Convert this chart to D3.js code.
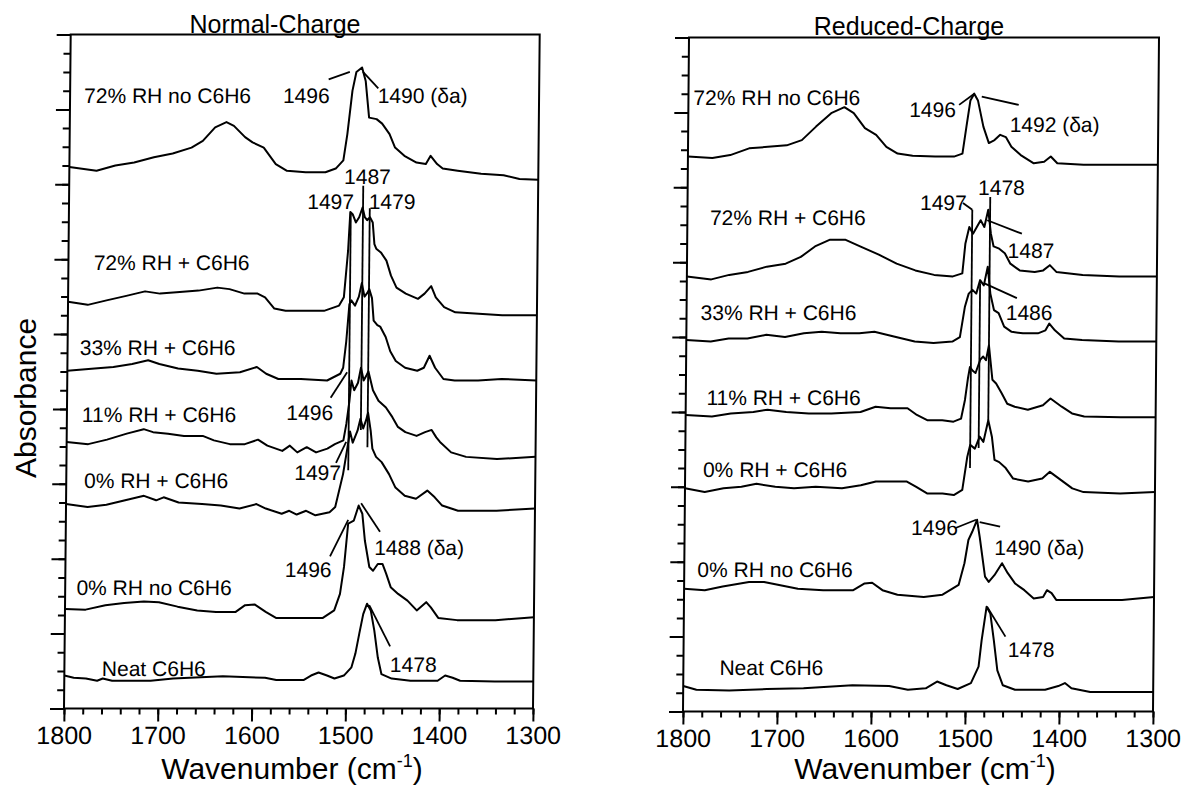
<!DOCTYPE html>
<html lang="en">
<head>
<meta charset="utf-8">
<script src="https://cdn.jsdelivr.net/npm/d3@7"></script>
<style>
  body { margin: 0; background: #fff; }
  svg text { font-family: "Liberation Sans", Arial, Helvetica, sans-serif; fill: #000; }
</style>
</head>
<body>
<div id="chart"></div>
<script>
// spectra: [wavenumber, absorbance (stacked, arbitrary units)]
// Normal-Charge
let nc72NoC6H6 = [[1800,7.23],[1771,7.18],[1751,7.25],[1731,7.29],[1710,7.36],[1690,7.41],[1670,7.49],[1658,7.58],[1645,7.76],[1633,7.83],[1625,7.78],[1613,7.63],[1605,7.56],[1593,7.49],[1580,7.27],[1568,7.18],[1548,7.16],[1527,7.16],[1516,7.21],[1508,7.32],[1504,7.67],[1499,8.25],[1495,8.50],[1489,8.56],[1485,8.38],[1481,7.89],[1473,7.87],[1467,7.81],[1459,7.67],[1453,7.49],[1443,7.38],[1430,7.29],[1420,7.27],[1415,7.38],[1408,7.27],[1402,7.21],[1386,7.18],[1361,7.14],[1337,7.12],[1320,7.07],[1300,7.06]]
let nc72C6H6 = [[1800,5.43],[1779,5.39],[1759,5.45],[1738,5.51],[1718,5.57],[1702,5.54],[1681,5.56],[1661,5.58],[1641,5.62],[1628,5.60],[1612,5.54],[1598,5.54],[1590,5.49],[1580,5.34],[1568,5.31],[1547,5.31],[1527,5.31],[1511,5.38],[1506,5.49],[1502,6.11],[1500,6.63],[1497.5,6.60],[1494,6.49],[1490.5,6.56],[1487,6.69],[1484.5,6.56],[1482,6.52],[1479,6.56],[1476,6.49],[1474,6.20],[1472,6.14],[1467,6.09],[1461,5.98],[1456,5.78],[1450,5.62],[1440,5.54],[1427,5.47],[1420,5.54],[1413,5.64],[1408,5.49],[1399,5.36],[1387,5.29],[1362,5.27],[1337,5.25],[1300,5.25]]
let nc33C6H6 = [[1800,4.51],[1771,4.54],[1751,4.56],[1731,4.60],[1714,4.65],[1702,4.60],[1682,4.54],[1661,4.51],[1641,4.47],[1616,4.49],[1598,4.56],[1588,4.47],[1575,4.40],[1551,4.40],[1523,4.38],[1509,4.47],[1506,4.55],[1503,4.90],[1500,5.40],[1498,5.45],[1494,5.38],[1490,5.50],[1487,5.68],[1484,5.50],[1481,5.55],[1479,5.60],[1476,5.48],[1474,5.18],[1470,5.12],[1467,5.10],[1461,4.96],[1456,4.77],[1450,4.64],[1440,4.55],[1427,4.51],[1420,4.55],[1414,4.71],[1408,4.55],[1399,4.40],[1387,4.38],[1362,4.38],[1337,4.40],[1300,4.38]]
let nc11C6H6 = [[1800,3.56],[1777,3.53],[1757,3.59],[1736,3.67],[1718,3.73],[1708,3.69],[1692,3.67],[1675,3.64],[1655,3.64],[1643,3.58],[1626,3.53],[1610,3.53],[1596,3.59],[1586,3.51],[1570,3.44],[1562,3.51],[1554,3.42],[1544,3.49],[1534,3.42],[1522,3.47],[1514,3.53],[1505,3.58],[1502,3.80],[1499,4.10],[1497,4.38],[1494,4.25],[1490,4.35],[1487,4.55],[1484,4.38],[1481,4.45],[1479,4.50],[1476,4.35],[1474,4.25],[1468,4.11],[1460,4.02],[1453,3.89],[1447,3.76],[1439,3.69],[1427,3.64],[1418,3.69],[1411,3.72],[1406,3.62],[1402,3.56],[1390,3.42],[1374,3.36],[1341,3.33],[1300,3.36]]
let nc0C6H6 = [[1800,2.73],[1777,2.69],[1757,2.72],[1737,2.78],[1717,2.84],[1704,2.78],[1696,2.82],[1680,2.75],[1655,2.73],[1635,2.71],[1615,2.67],[1597,2.73],[1587,2.67],[1570,2.60],[1562,2.64],[1554,2.59],[1544,2.64],[1534,2.58],[1519,2.62],[1513,2.69],[1505,3.13],[1501,3.45],[1498,3.70],[1495,3.55],[1490,3.71],[1487,3.87],[1484,3.74],[1481,3.85],[1479,3.95],[1476,3.71],[1474,3.47],[1470,3.36],[1464,3.29],[1456,3.13],[1449,2.95],[1439,2.84],[1427,2.80],[1415,2.91],[1407,2.82],[1399,2.71],[1382,2.64],[1341,2.64],[1300,2.67]]
let nc0NoC6H6 = [[1800,1.33],[1778,1.32],[1757,1.38],[1737,1.41],[1716,1.43],[1700,1.42],[1680,1.36],[1659,1.31],[1639,1.29],[1618,1.29],[1608,1.38],[1598,1.39],[1586,1.29],[1575,1.21],[1553,1.21],[1525,1.21],[1513,1.31],[1507,1.53],[1503,1.89],[1499,2.47],[1493,2.51],[1488,2.71],[1484,2.60],[1481,2.24],[1476,1.89],[1472,1.84],[1467,1.93],[1462,1.93],[1458,1.80],[1453,1.62],[1445,1.53],[1435,1.44],[1425,1.31],[1415,1.42],[1410,1.35],[1402,1.21],[1382,1.18],[1341,1.18],[1300,1.22]]
let ncNeat = [[1800,0.44],[1790,0.41],[1777,0.40],[1765,0.37],[1759,0.40],[1749,0.37],[1708,0.37],[1684,0.40],[1631,0.43],[1586,0.41],[1574,0.38],[1545,0.38],[1537,0.44],[1529,0.48],[1520,0.44],[1512,0.40],[1502,0.44],[1494,0.55],[1490,0.73],[1486,1.00],[1482,1.26],[1478,1.40],[1474,1.31],[1470,1.04],[1466,0.68],[1462,0.46],[1451,0.40],[1431,0.37],[1402,0.37],[1394,0.44],[1386,0.41],[1378,0.37],[1341,0.36],[1300,0.36]]

// Reduced-Charge
let rc72NoC6H6 = [[1800,7.41],[1774,7.39],[1755,7.43],[1735,7.52],[1715,7.54],[1695,7.56],[1679,7.63],[1664,7.81],[1648,7.99],[1634,8.07],[1624,7.99],[1612,7.79],[1600,7.70],[1589,7.54],[1577,7.45],[1561,7.42],[1537,7.41],[1517,7.41],[1508,7.45],[1504,7.81],[1500,8.16],[1496,8.25],[1492,8.16],[1486,7.81],[1480,7.59],[1474,7.63],[1468,7.70],[1462,7.67],[1456,7.54],[1446,7.43],[1432,7.32],[1421,7.34],[1414,7.41],[1407,7.32],[1379,7.30],[1340,7.30],[1300,7.30]]
let rc72C6H6 = [[1800,5.81],[1774,5.77],[1755,5.83],[1735,5.87],[1715,5.94],[1695,5.98],[1679,6.07],[1664,6.21],[1648,6.30],[1632,6.30],[1616,6.21],[1596,6.10],[1577,5.98],[1557,5.89],[1537,5.83],[1517,5.81],[1507,5.85],[1504,6.25],[1500,6.47],[1496,6.38],[1492,6.47],[1488,6.56],[1484,6.47],[1480,6.70],[1477,6.38],[1474,6.21],[1468,6.18],[1462,6.12],[1456,5.98],[1446,5.89],[1430,5.87],[1421,5.89],[1414,5.96],[1407,5.87],[1379,5.83],[1340,5.81],[1300,5.81]]
let rc33C6H6 = [[1800,4.96],[1774,4.94],[1755,4.98],[1735,4.98],[1715,5.03],[1695,5.00],[1675,5.05],[1656,5.07],[1636,5.05],[1616,5.05],[1600,5.07],[1577,5.00],[1557,4.94],[1537,4.92],[1517,4.94],[1509,5.00],[1504,5.40],[1500,5.58],[1496,5.63],[1492,5.58],[1488,5.76],[1484,5.69],[1480,5.94],[1477,5.58],[1473,5.36],[1468,5.32],[1462,5.14],[1454,5.07],[1442,5.05],[1426,5.05],[1418,5.09],[1414,5.18],[1408,5.09],[1398,4.98],[1379,4.96],[1340,4.94],[1300,4.94]]
let rc11C6H6 = [[1800,3.96],[1772,3.94],[1752,3.98],[1728,4.00],[1713,4.03],[1693,4.00],[1669,3.98],[1645,3.98],[1614,4.00],[1598,4.07],[1582,4.05],[1564,4.05],[1554,3.96],[1543,3.89],[1527,3.89],[1515,3.87],[1507,3.91],[1503,4.16],[1500,4.45],[1498,4.60],[1495,4.55],[1492,4.52],[1487,4.70],[1484,4.74],[1481,4.69],[1478,4.89],[1474,4.43],[1470,4.38],[1464,4.25],[1458,4.11],[1450,4.07],[1436,4.03],[1420,4.09],[1412,4.18],[1400,4.07],[1389,3.98],[1376,3.94],[1337,3.93],[1300,3.93]]
let rc0C6H6 = [[1800,2.98],[1779,2.93],[1759,2.98],[1740,3.00],[1724,3.04],[1704,3.00],[1684,2.98],[1661,3.00],[1633,2.98],[1613,3.02],[1597,3.07],[1578,3.07],[1564,3.07],[1554,3.00],[1542,2.91],[1526,2.91],[1514,2.89],[1505,2.96],[1500,3.40],[1497,3.56],[1492,3.51],[1487,3.67],[1483,3.60],[1478,3.89],[1474,3.67],[1471,3.36],[1466,3.33],[1459,3.25],[1451,3.11],[1435,3.07],[1420,3.11],[1412,3.20],[1400,3.09],[1388,2.98],[1376,2.93],[1337,2.91],[1300,2.93]]
let rc0NoC6H6 = [[1800,1.64],[1778,1.62],[1759,1.67],[1731,1.73],[1715,1.73],[1699,1.69],[1679,1.64],[1652,1.62],[1620,1.62],[1608,1.71],[1600,1.72],[1589,1.62],[1573,1.56],[1545,1.53],[1525,1.56],[1508,1.69],[1502,1.98],[1498,2.29],[1494,2.40],[1489,2.56],[1486,2.33],[1480,1.80],[1476,1.73],[1470,1.82],[1462,1.98],[1456,1.85],[1448,1.71],[1438,1.62],[1428,1.51],[1418,1.53],[1414,1.62],[1409,1.58],[1404,1.49],[1390,1.49],[1334,1.49],[1300,1.53]]
let rcNeat = [[1800,0.34],[1786,0.29],[1751,0.28],[1711,0.30],[1672,0.31],[1620,0.35],[1581,0.34],[1561,0.29],[1542,0.31],[1530,0.40],[1520,0.35],[1508,0.30],[1494,0.38],[1486,0.60],[1483,0.95],[1478,1.40],[1474,1.31],[1470,0.95],[1466,0.55],[1460,0.35],[1447,0.29],[1415,0.29],[1401,0.34],[1394,0.38],[1387,0.31],[1367,0.26],[1300,0.26]]

// text labels: [text, wavenumber, absorbance]
let ncSeriesLabels = [['72% RH no C6H6',1785,8.08],['72% RH + C6H6',1773,5.85],['33% RH + C6H6',1787,4.72],['11% RH + C6H6',1784,3.83],['0% RH + C6H6',1781,2.94],['0% RH no C6H6',1788,1.52],['Neat C6H6',1760,0.44]]
let ncPeakLabels = [['1496',1573,8.08],['1490 (δa)',1472,8.08],['1487',1507,7.01],['1497',1546,6.67],['1479',1480.5,6.67],['1496',1566,3.85],['1497',1557,3.05],['1488 (δa)',1471,2.05],['1496',1566,1.76],['1478',1453,0.49]]
// leader lines: [wn1, abs1, wn2, abs2]
let ncLeaders = [[1524.5,8.40,1502,8.50],[1488,8.50,1471.5,8.28],[1499.5,6.62,1499.5,3.18],[1486.5,6.98,1486.5,3.72],[1479.3,6.68,1479.3,3.49],[1519,4.15,1501.7,4.49],[1512.6,3.28,1502,3.56],[1518,2.03,1499,2.52],[1485.4,2.74,1465,2.36],[1475.7,1.38,1453,0.83]]

let rcSeriesLabels = [['72% RH no C6H6',1794.7,8.10],['72% RH + C6H6',1776,6.50],['33% RH + C6H6',1785,5.23],['11% RH + C6H6',1778,4.09],['0% RH + C6H6',1781,3.13],['0% RH no C6H6',1786,1.80],['Neat C6H6',1761.6,0.49]]
let rcPeakLabels = [['1496',1565,7.94],['1492 (δa)',1458,7.74],['1497',1552.6,6.70],['1478',1491,6.90],['1487',1459,6.05],['1486',1460.4,5.23],['1496',1559,2.36],['1490 (δa)',1470.3,2.09],['1478',1455,0.73]]
let rcLeaders = [[1512,8.10,1496,8.25],[1488,8.21,1448.6,8.10],[1507,6.79,1497,6.70],[1497,6.70,1497,3.25],[1488,5.72,1488,3.52],[1478,6.87,1478,3.89],[1481,6.56,1444,6.38],[1484,5.72,1448.7,5.52],[1511.8,2.45,1490,2.56],[1486.2,2.53,1464.4,2.47],[1477.5,1.40,1457.7,1.00]]

let xMajorTicks = [1800,1700,1600,1500,1400,1300]

let w = 1184
let h = 788

let svg = d3.select('#chart')
    .append('svg')
    .attr('width', w)
    .attr('height', h)

let panels = [
    {title: 'Normal-Charge', titleX: 275, titleY: 33, left: 64, top: 34.5, width: 469, height: 674, skew: 6.7, xTitleX: 292,
     spectra: [nc72NoC6H6, nc72C6H6, nc33C6H6, nc11C6H6, nc0C6H6, nc0NoC6H6, ncNeat],
     seriesLabels: ncSeriesLabels, peakLabels: ncPeakLabels, leaders: ncLeaders},
    {title: 'Reduced-Charge', titleX: 909, titleY: 35, left: 683, top: 37.5, width: 470, height: 674, skew: 6, xTitleX: 925,
     spectra: [rc72NoC6H6, rc72C6H6, rc33C6H6, rc11C6H6, rc0C6H6, rc0NoC6H6, rcNeat],
     seriesLabels: rcSeriesLabels, peakLabels: rcPeakLabels, leaders: rcLeaders}
]

function drawPanel(p) {
    // the scanned frame leans a little, so shear the plot group to match
    let g = svg.append('g')
        .attr('transform', 'matrix(1,0,' + (-p.skew / p.height) + ',1,' + (p.left + p.skew) + ',' + p.top + ')')

    let xScale = d3.scaleLinear().domain([1800, 1300]).range([0, p.width])
    let yScale = d3.scaleLinear().domain([0, 9]).range([p.height, 0])

    // minor + major ticks, left and bottom only
    let yMinor = d3.axisLeft(yScale).tickValues(d3.range(0, 9.01, 0.25)).tickSize(7).tickFormat('')
    let yMajor = d3.axisLeft(yScale).tickValues(d3.range(0, 10, 1)).tickSize(14).tickFormat('')
    let xMinor = d3.axisBottom(xScale).tickValues(d3.range(1300, 1801, 20)).tickSize(6).tickFormat('')
    let xMajor = d3.axisBottom(xScale).tickValues(xMajorTicks).tickSize(13).tickPadding(5).tickFormat(d3.format('d'))

    g.append('g').call(yMinor)
    g.append('g').call(yMajor)
    g.append('g').attr('transform', 'translate(0,' + p.height + ')').call(xMinor)
    let xa = g.append('g').attr('transform', 'translate(0,' + p.height + ')').call(xMajor)
    g.selectAll('.domain').remove()
    g.selectAll('.tick line').attr('stroke', '#000').attr('stroke-width', 2)
    xa.selectAll('text')
        .attr('font-size', 25)
        .attr('fill', '#000')
        .style('font-family', '"Liberation Sans", Arial, sans-serif')

    g.append('rect')
        .attr('x', 0)
        .attr('y', 0)
        .attr('width', p.width)
        .attr('height', p.height)
        .attr('fill', 'none')
        .attr('stroke', '#000')
        .attr('stroke-width', 2)

    let line = d3.line()
        .x(function(d) { return xScale(d[0]) })
        .y(function(d) { return yScale(d[1]) })

    g.selectAll('path.spectrum')
        .data(p.spectra)
        .enter()
        .append('path')
        .attr('class', 'spectrum')
        .attr('d', line)
        .attr('fill', 'none')
        .attr('stroke', '#000')
        .attr('stroke-width', 2)
        .attr('stroke-linejoin', 'round')

    g.selectAll('line.leader')
        .data(p.leaders)
        .enter()
        .append('line')
        .attr('class', 'leader')
        .attr('x1', function(d) { return xScale(d[0]) })
        .attr('y1', function(d) { return yScale(d[1]) })
        .attr('x2', function(d) { return xScale(d[2]) })
        .attr('y2', function(d) { return yScale(d[3]) })
        .attr('stroke', '#000')
        .attr('stroke-width', 1.8)

    g.selectAll('text.series')
        .data(p.seriesLabels.concat(p.peakLabels))
        .enter()
        .append('text')
        .attr('class', 'series')
        .attr('x', function(d) { return xScale(d[1]) })
        .attr('y', function(d) { return yScale(d[2]) })
        .attr('font-size', 21)
        .text(function(d) { return d[0] })

    svg.append('text')
        .attr('x', p.titleX)
        .attr('y', p.titleY)
        .attr('text-anchor', 'middle')
        .attr('font-size', 25)
        .text(p.title)

    let xt = svg.append('text')
        .attr('x', p.xTitleX)
        .attr('y', 779)
        .attr('text-anchor', 'middle')
        .attr('font-size', 30)
    xt.append('tspan').text('Wavenumber (cm')
    xt.append('tspan').attr('dy', -12).attr('font-size', 18).text('-1')
    xt.append('tspan').attr('dy', 12).text(')')
}

panels.forEach(drawPanel)

svg.append('text')
    .attr('transform', 'translate(36,398) rotate(-90)')
    .attr('text-anchor', 'middle')
    .attr('font-size', 30)
    .text('Absorbance')
</script>
</body>
</html>
